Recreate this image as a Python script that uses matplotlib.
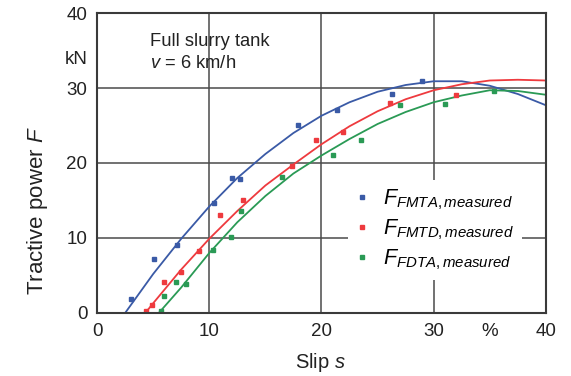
import numpy as np
import matplotlib as mpl
import matplotlib.pyplot as plt

mpl.rcParams.update({
    "font.family": "Liberation Sans",
    "mathtext.fontset": "custom",
    "mathtext.rm": "Liberation Sans",
    "mathtext.it": "Liberation Sans:italic",
    "mathtext.bf": "Liberation Sans:bold",
})

C_MTA = "#3a5aa6"
C_MTD = "#ee3a3e"
C_DTA = "#2a9a55"
C_GRID = "#4a4a4a"
C_TXT = "#222222"

# measured points (slip %, force kN)
mta_s = [3.0, 5.1, 7.1, 10.4, 12.0, 12.7, 17.9, 21.4, 26.3, 29.0]
mta_f = [1.9, 7.2, 9.1, 14.7, 18.0, 17.9, 25.1, 27.1, 29.2, 31.0]

mtd_s = [4.4, 4.9, 6.0, 7.5, 9.1, 11.0, 13.0, 17.4, 19.5, 21.9, 26.1, 32.0]
mtd_f = [0.2, 1.1, 4.1, 5.5, 8.2, 13.1, 15.0, 19.6, 23.1, 24.1, 28.0, 29.1]

dta_s = [5.7, 6.0, 7.0, 7.9, 10.3, 11.9, 12.8, 16.5, 21.0, 23.5, 27.0, 31.0, 35.4]
dta_f = [0.2, 2.2, 4.1, 3.9, 8.4, 10.1, 13.6, 18.1, 21.0, 23.1, 27.7, 27.9, 29.6]

# trend curves
mta_cs = [2.5, 5, 7.5, 10, 12.5, 15, 17.5, 20, 22.5, 25, 27.5, 30, 32.5, 35, 37.5, 40]
mta_cf = [0.0, 5.2, 9.9, 14.2, 18.0, 21.2, 24.0, 26.3, 28.1, 29.5, 30.4, 30.9, 30.9, 30.3, 29.2, 27.7]

mtd_cs = [4.3, 5, 7.5, 10, 12.5, 15, 17.5, 20, 22.5, 25, 27.5, 30, 32.5, 35, 37.5, 40]
mtd_cf = [0.0, 1.3, 5.8, 9.9, 13.6, 17.0, 19.8, 22.5, 24.9, 26.9, 28.5, 29.7, 30.5, 31.0, 31.1, 31.0]

dta_cs = [5.5, 7.5, 10, 12.5, 15, 17.5, 20, 22.5, 25, 27.5, 30, 32.5, 35, 37.5, 40]
dta_cf = [0.0, 3.4, 8.0, 12.1, 15.6, 18.6, 21.0, 23.2, 25.2, 26.8, 28.1, 29.0, 29.7, 29.6, 29.1]

x_ticks = [0, 10, 20, 30, 35.0, 40]
x_labels = ["0", "10", "20", "30", "%", "40"]
y_ticks = [0, 10, 20, 30, 34.1, 40]
y_labels = ["0", "10", "20", "30", "kN", "40"]

fig = plt.figure(figsize=(5.71, 3.76), dpi=100)
ax = fig.add_axes([0.170, 0.1676, 0.786, 0.7978])

ax.plot(mta_cs, mta_cf, color=C_MTA, lw=1.3)
ax.plot(mtd_cs, mtd_cf, color=C_MTD, lw=1.3)
ax.plot(dta_cs, dta_cf, color=C_DTA, lw=1.3)

ax.plot(mta_s, mta_f, "s", color=C_MTA, ms=3.3, label="$F_{FMTA,measured}$")
ax.plot(mtd_s, mtd_f, "s", color=C_MTD, ms=3.3, label="$F_{FMTD,measured}$")
ax.plot(dta_s, dta_f, "s", color=C_DTA, ms=3.3, label="$F_{FDTA,measured}$")

ax.set_xlim(0, 40)
ax.set_ylim(0, 40)
ax.set_xticks(x_ticks, x_labels)
ax.set_yticks(y_ticks, y_labels)
ax.tick_params(length=0, labelsize=13.5, colors=C_TXT, pad=7)

# grid only at the numeric ticks
for v in [10, 20, 30]:
    ax.axvline(v, color=C_GRID, lw=1.1, zorder=0)
    ax.axhline(v, color=C_GRID, lw=1.1, zorder=0)
for sp in ax.spines.values():
    sp.set_color("#3a3a3a")
    sp.set_linewidth(1.5)

ax.text(0.118, 0.935, "Full slurry tank\n$v$ = 6 km/h", transform=ax.transAxes,
        fontsize=13.2, va="top", ha="left", linespacing=1.45, color=C_TXT)

ax.set_xlabel("Slip $s$", fontsize=14.5, color=C_TXT)
ax.xaxis.set_label_coords(0.497, -0.128)
ax.set_ylabel("Tractive power $F$", fontsize=16, color=C_TXT)
ax.yaxis.set_label_coords(-0.105, 0.34)

leg = ax.legend(loc="upper left", bbox_to_anchor=(0.535, 0.48), frameon=True,
                fontsize=15.5, markerscale=0.75, handlelength=0.6, handletextpad=0.7,
                labelspacing=0.27, borderpad=0.35)
leg.get_frame().set_edgecolor("none")
leg.get_frame().set_facecolor("white")
leg.get_frame().set_alpha(1)
leg.get_frame().set_boxstyle("square", pad=0)

fig.savefig("out.png", dpi=100)
